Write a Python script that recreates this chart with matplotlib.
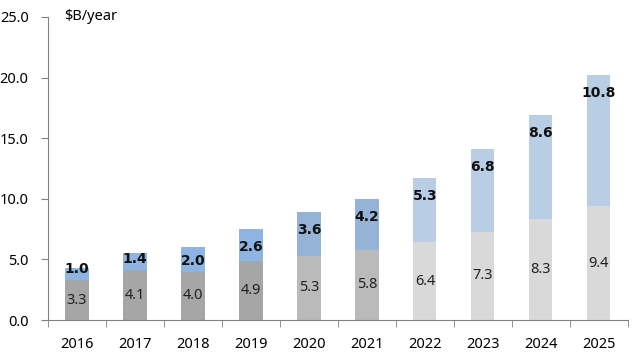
import matplotlib.pyplot as plt
from matplotlib.ticker import FixedLocator

years = ['2016', '2017', '2018', '2019', '2020', '2021', '2022', '2023', '2024', '2025']
base_vals = [3.3, 4.1, 4.0, 4.9, 5.3, 5.8, 6.4, 7.3, 8.3, 9.4]
extra_vals = [1.0, 1.4, 2.0, 2.6, 3.6, 4.2, 5.3, 6.8, 8.6, 10.8]

# colour groups: actual / recent / forecast
base_colors = ['#a6a6a6'] * 4 + ['#bababa'] * 2 + ['#d9d9d9'] * 4
extra_colors = ['#8db4e2'] * 4 + ['#95b3d7'] * 2 + ['#b9cde5'] * 4

plt.rcParams['font.family'] = ['Noto Sans', 'DejaVu Sans']

fig = plt.figure(figsize=(6.4, 3.6), dpi=100)
ax = fig.add_axes([0.075, 0.111, 0.906, 0.842])

x = list(range(len(years)))
ax.bar(x, base_vals, width=0.4, color=base_colors)
ax.bar(x, extra_vals, width=0.4, bottom=base_vals, color=extra_colors)

for i in x:
    b = base_vals[i]
    e = extra_vals[i]
    ax.text(i, b / 2, f'{b:.1f}', ha='center', va='center', fontsize=10.5, color='#222222')
    off = min(1.5, max(0.1, e - 0.9))
    # Noto Sans has no bold here, so bold labels use DejaVu
    ax.text(i, b + e - off, f'{e:.1f}', ha='center', va='center', fontsize=10,
            fontweight='bold', family='DejaVu Sans', color='#111111')

ax.set_xlim(-0.5, len(years) - 0.5)
ax.set_ylim(0, 25)
ax.set_yticks([0, 5, 10, 15, 20, 25])
ax.set_yticklabels([f'{v:.1f}' for v in [0, 5, 10, 15, 20, 25]], fontsize=10.5)
ax.set_xticks(x)
ax.set_xticklabels(years, fontsize=10.5)
ax.xaxis.set_minor_locator(FixedLocator([i - 0.5 for i in range(len(years) + 1)]))
ax.tick_params(axis='x', which='major', length=0, pad=12)
ax.tick_params(axis='x', which='minor', length=5, color='#808080', direction='out')
ax.tick_params(axis='y', length=5, color='#808080', pad=9)

for s in ['top', 'right']:
    ax.spines[s].set_visible(False)
ax.spines['left'].set_color('#808080')
ax.spines['bottom'].set_color('#808080')

ax.text(0.027, 1.0, '$B/year', transform=ax.transAxes, ha='left', va='center', fontsize=10.5)

fig.savefig('out.png', dpi=100)
